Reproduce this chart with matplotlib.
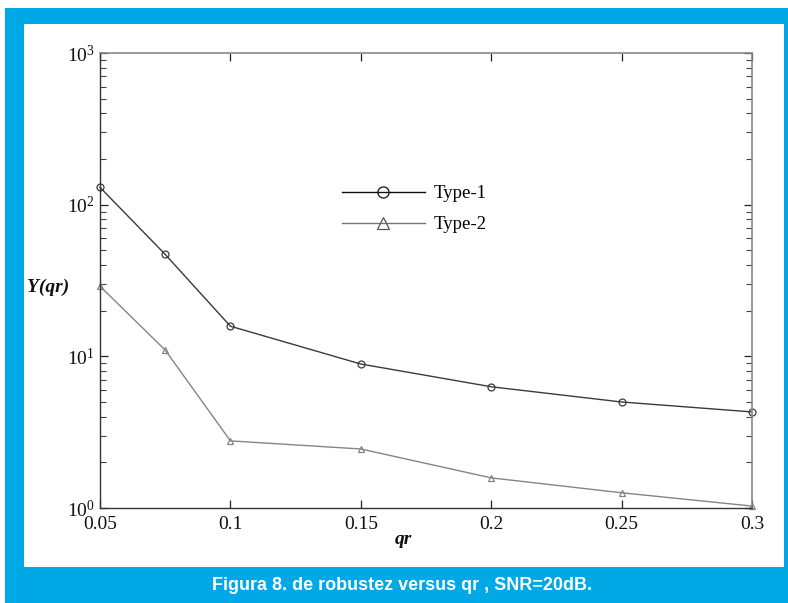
import matplotlib
matplotlib.use("Agg")
import matplotlib.pyplot as plt
from matplotlib.patches import Rectangle
from matplotlib.ticker import LogLocator, NullFormatter, FixedLocator

qr = [0.05, 0.075, 0.1, 0.15, 0.2, 0.25, 0.3]
type1 = [130, 47, 15.8, 8.9, 6.3, 5.0, 4.3]
type2 = [29, 11, 2.77, 2.45, 1.58, 1.26, 1.03]
xticks = [0.05, 0.1, 0.15, 0.2, 0.25, 0.3]
xticklabels = ["0.05", "0.1", "0.15", "0.2", "0.25", "0.3"]
caption = "Figura 8. de robustez versus qr , SNR=20dB."

plt.rcParams['font.family'] = ['Liberation Serif', 'DejaVu Serif']
plt.rcParams['mathtext.fontset'] = 'custom'
plt.rcParams['mathtext.rm'] = 'Liberation Serif'
plt.rcParams['mathtext.it'] = 'Liberation Serif:italic'
plt.rcParams['mathtext.bf'] = 'Liberation Serif:bold'

W, H = 788, 603
fig = plt.figure(figsize=(W / 100, H / 100), dpi=100)
fig.patch.set_facecolor('white')

blue = '#00a8e6'
fig.patches.append(Rectangle((5 / W, 0), 783 / W, 595 / H, transform=fig.transFigure,
                             facecolor=blue, edgecolor='none', zorder=0))
fig.patches.append(Rectangle((24 / W, 36 / H), 760 / W, 543 / H, transform=fig.transFigure,
                             facecolor='white', edgecolor='none', zorder=1))

ax = fig.add_axes([100 / W, (H - 508) / H, 652 / W, 455 / H])
ax.set_zorder(2)
ax.set_facecolor('none')

ax.plot(qr, type1, color='#3a3a3a', lw=1.0, marker='o', ms=5, mfc='none',
        mec='#3a3a3a', mew=0.9, label='Type-1', clip_on=False)
ax.plot(qr, type2, color='#858585', lw=1.0, marker='^', ms=5, mfc='none',
        mec='#858585', mew=0.9, label='Type-2', clip_on=False)

ax.set_yscale('log')
ax.set_ylim(1, 1000)
ax.set_xlim(0.05, 0.3)
ax.xaxis.set_major_locator(FixedLocator(xticks))
ax.set_xticklabels(xticklabels)
ax.yaxis.set_major_locator(LogLocator(base=10, numticks=10))
ax.yaxis.set_minor_locator(LogLocator(base=10, subs=range(2, 10), numticks=20))
ax.yaxis.set_minor_formatter(NullFormatter())

ax.tick_params(axis='both', which='major', direction='in', length=6, width=0.9,
               labelsize=14, top=True, right=True, colors='#222222')
ax.tick_params(axis='y', which='minor', direction='in', length=4, width=0.8,
               right=True, colors='#444444')
ax.tick_params(axis='x', which='major', pad=6)
ax.tick_params(axis='y', which='major', pad=4)
for lab in ax.get_xticklabels() + ax.get_yticklabels():
    lab.set_color('#111111')

for s in ['left', 'bottom']:
    ax.spines[s].set_color('#333333')
    ax.spines[s].set_linewidth(1.0)
for s in ['top', 'right']:
    ax.spines[s].set_color('#888888')
    ax.spines[s].set_linewidth(1.2)

fig.text(48 / W, (H - 287) / H, 'Y(qr)', fontsize=14, fontweight='bold',
         fontstyle='italic', ha='center', va='center', color='#111111')
fig.text(403 / W, (H - 539) / H, 'qr', fontsize=14, fontweight='bold',
         fontstyle='italic', ha='center', va='center', color='#111111')

leg = ax.legend(loc='upper left', bbox_to_anchor=((342 - 100) / 652, (508 - 185) / 455),
                frameon=False, fontsize=13.5, handlelength=4.4, handletextpad=0.5,
                labelspacing=0.75, borderpad=0, borderaxespad=0, markerscale=1.6)
leg.legend_handles[0].set_color('#111111')
leg.legend_handles[0].set_markeredgecolor('#111111')
leg.legend_handles[1].set_color('#777777')
leg.legend_handles[1].set_markeredgecolor('#555555')

fig.text(402 / W, (H - 585) / H, caption, fontsize=13, fontweight='bold',
         color='white', ha='center', va='center',
         family=['Liberation Sans', 'DejaVu Sans'])

fig.savefig('out.png', dpi=100, facecolor='white')
